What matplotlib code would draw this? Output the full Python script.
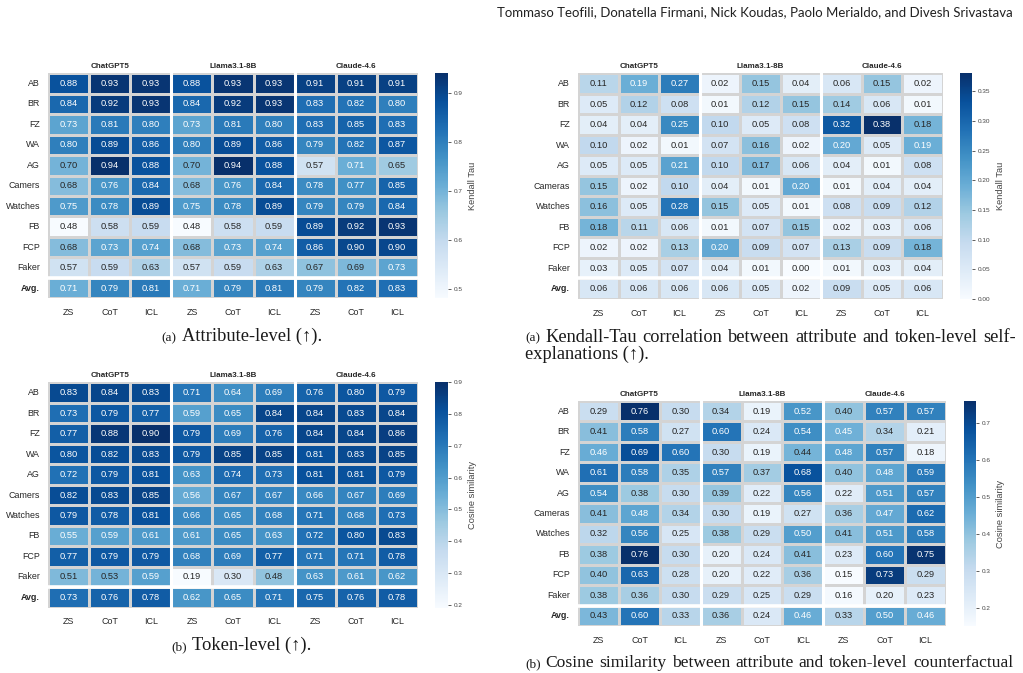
import numpy as np
import matplotlib
matplotlib.use("Agg")
import matplotlib.pyplot as plt
import seaborn as sns

plt.rcParams['font.family'] = ['Liberation Sans', 'DejaVu Sans']

models = ["ChatGPT5", "Llama3.1-8B", "Claude-4.6"]
strategies = ["ZS", "CoT", "ICL"]
rows_left = ["AB", "BR", "FZ", "WA", "AG", "Camers", "Watches", "FB", "FCP", "Faker", "Avg."]
rows_right = ["AB", "BR", "FZ", "WA", "AG", "Cameras", "Watches", "FB", "FCP", "Faker", "Avg."]

attribute_level = [
    [0.88, 0.93, 0.93, 0.88, 0.93, 0.93, 0.91, 0.91, 0.91],
    [0.84, 0.92, 0.93, 0.84, 0.92, 0.93, 0.83, 0.82, 0.80],
    [0.73, 0.81, 0.80, 0.73, 0.81, 0.80, 0.83, 0.85, 0.83],
    [0.80, 0.89, 0.86, 0.80, 0.89, 0.86, 0.79, 0.82, 0.87],
    [0.70, 0.94, 0.88, 0.70, 0.94, 0.88, 0.57, 0.71, 0.65],
    [0.68, 0.76, 0.84, 0.68, 0.76, 0.84, 0.78, 0.77, 0.85],
    [0.75, 0.78, 0.89, 0.75, 0.78, 0.89, 0.79, 0.79, 0.84],
    [0.48, 0.58, 0.59, 0.48, 0.58, 0.59, 0.89, 0.92, 0.93],
    [0.68, 0.73, 0.74, 0.68, 0.73, 0.74, 0.86, 0.90, 0.90],
    [0.57, 0.59, 0.63, 0.57, 0.59, 0.63, 0.67, 0.69, 0.73],
    [0.71, 0.79, 0.81, 0.71, 0.79, 0.81, 0.79, 0.82, 0.83],
]

kendall_attr_token = [
    [0.11, 0.19, 0.27, 0.02, 0.15, 0.04, 0.06, 0.15, 0.02],
    [0.05, 0.12, 0.08, 0.01, 0.12, 0.15, 0.14, 0.06, 0.01],
    [0.04, 0.04, 0.25, 0.10, 0.05, 0.08, 0.32, 0.38, 0.18],
    [0.10, 0.02, 0.01, 0.07, 0.16, 0.02, 0.20, 0.05, 0.19],
    [0.05, 0.05, 0.21, 0.10, 0.17, 0.06, 0.04, 0.01, 0.08],
    [0.15, 0.02, 0.10, 0.04, 0.01, 0.20, 0.01, 0.04, 0.04],
    [0.16, 0.05, 0.28, 0.15, 0.05, 0.01, 0.08, 0.09, 0.12],
    [0.18, 0.11, 0.06, 0.01, 0.07, 0.15, 0.02, 0.03, 0.06],
    [0.02, 0.02, 0.13, 0.20, 0.09, 0.07, 0.13, 0.09, 0.18],
    [0.03, 0.05, 0.07, 0.04, 0.01, 0.00, 0.01, 0.03, 0.04],
    [0.06, 0.06, 0.06, 0.06, 0.05, 0.02, 0.09, 0.05, 0.06],
]

token_level = [
    [0.83, 0.84, 0.83, 0.71, 0.64, 0.69, 0.76, 0.80, 0.79],
    [0.73, 0.79, 0.77, 0.59, 0.65, 0.84, 0.84, 0.83, 0.84],
    [0.77, 0.88, 0.90, 0.79, 0.69, 0.76, 0.84, 0.84, 0.86],
    [0.80, 0.82, 0.83, 0.79, 0.85, 0.85, 0.81, 0.83, 0.85],
    [0.72, 0.79, 0.81, 0.63, 0.74, 0.73, 0.81, 0.81, 0.79],
    [0.82, 0.83, 0.85, 0.56, 0.67, 0.67, 0.66, 0.67, 0.69],
    [0.79, 0.78, 0.81, 0.66, 0.65, 0.68, 0.71, 0.68, 0.73],
    [0.55, 0.59, 0.61, 0.61, 0.65, 0.63, 0.72, 0.80, 0.83],
    [0.77, 0.79, 0.79, 0.68, 0.69, 0.77, 0.71, 0.71, 0.78],
    [0.51, 0.53, 0.59, 0.19, 0.30, 0.48, 0.63, 0.61, 0.62],
    [0.73, 0.76, 0.78, 0.62, 0.65, 0.71, 0.75, 0.76, 0.78],
]

cosine_counterfactual = [
    [0.29, 0.76, 0.30, 0.34, 0.19, 0.52, 0.40, 0.57, 0.57],
    [0.41, 0.58, 0.27, 0.60, 0.24, 0.54, 0.45, 0.34, 0.21],
    [0.46, 0.69, 0.60, 0.30, 0.19, 0.44, 0.48, 0.57, 0.18],
    [0.61, 0.58, 0.35, 0.57, 0.37, 0.68, 0.40, 0.48, 0.59],
    [0.54, 0.38, 0.30, 0.39, 0.22, 0.56, 0.22, 0.51, 0.57],
    [0.41, 0.48, 0.34, 0.30, 0.19, 0.27, 0.36, 0.47, 0.62],
    [0.32, 0.56, 0.25, 0.38, 0.29, 0.50, 0.41, 0.51, 0.58],
    [0.38, 0.76, 0.30, 0.20, 0.24, 0.41, 0.23, 0.60, 0.75],
    [0.40, 0.63, 0.28, 0.20, 0.22, 0.36, 0.15, 0.73, 0.29],
    [0.38, 0.36, 0.30, 0.29, 0.25, 0.29, 0.16, 0.20, 0.23],
    [0.43, 0.60, 0.33, 0.36, 0.24, 0.46, 0.33, 0.50, 0.46],
]

W, H = 1023, 673
fig = plt.figure(figsize=(W / 100, H / 100), dpi=100)


def rect(x0, y0, x1, y1):
    return [x0 / W, 1 - y1 / H, (x1 - x0) / W, (y1 - y0) / H]


TXT = '#262626'


def panel(hm_box, cb_box, data, rows, cbar_label):
    ax = fig.add_axes(rect(*hm_box))
    cax = fig.add_axes(rect(*cb_box))
    arr = np.array(data)
    xlabels = strategies * len(models)
    sns.heatmap(arr, ax=ax, cbar_ax=cax, cmap='Blues', annot=True, fmt='.2f',
                linewidths=1, linecolor='#d4d4d4',
                annot_kws={'fontsize': 6.7},
                xticklabels=xlabels, yticklabels=rows)
    for x in (3, 6):
        ax.axvline(x, color='white', lw=2.2)
    ax.axhline(len(rows) - 1, color='white', lw=2.6)
    ax.tick_params(axis='both', length=0, labelsize=6.4, colors=TXT)
    ax.tick_params(axis='x', pad=7)
    ax.tick_params(axis='y', pad=6)
    plt.setp(ax.get_yticklabels(), rotation=0)
    plt.setp(ax.get_xticklabels(), rotation=0)
    ax.get_yticklabels()[-1].set_fontweight('bold')
    for i, m in enumerate(models):
        ax.text(3 * i + 1.5, -0.32, m, ha='center', va='center',
                fontsize=5.8, fontweight='bold', color=TXT)
    cax.tick_params(labelsize=4.6, length=2.5, width=0.6, colors='#444444', pad=1.5)
    cax.set_ylabel(cbar_label, fontsize=6.7, color='#444444', labelpad=4)
    return ax


panel((48.3, 73.3, 417.7, 298.3), (435, 73.3, 447.7, 298.3),
      attribute_level, rows_left, 'Kendall Tau')
panel((578.3, 73.3, 942.7, 299), (960, 73.3, 972.3, 299),
      kendall_attr_token, rows_right, 'Kendall Tau')
panel((48.3, 382.3, 417.7, 607.7), (435, 382.3, 447.7, 607.7),
      token_level, rows_left, 'Cosine similarity')
panel((578.3, 401, 945.7, 626), (964.3, 401, 976, 626),
      cosine_counterfactual, rows_right, 'Cosine similarity')

serif = ['Liberation Serif', 'DejaVu Serif']
CAP_L = 13.3
TAG = 9.5
CAPCOL = '#1a1a1a'
fig.canvas.draw()
R = fig.canvas.get_renderer()


def width_of(s, size):
    t = fig.text(0, 0, s, fontsize=size, family=serif)
    w = t.get_window_extent(R).width
    t.remove()
    return w


def justified_caption(x0, x1, y, tag, text, size):
    """LaTeX-like justified first caption line between x0 and x1."""
    wt = width_of(tag, TAG)
    fig.text(x0 / W, 1 - y / H, tag, fontsize=TAG, family=serif, va='baseline',
             ha='left', color=CAPCOL)
    words = text.split(' ')
    widths = [width_of(w, size) for w in words]
    start = x0 + wt + 5
    gap = (x1 - start - sum(widths)) / (len(words) - 1)
    x = start
    for w, ww in zip(words, widths):
        fig.text(x / W, 1 - y / H, w, fontsize=size, family=serif, va='baseline',
                 ha='left', color=CAPCOL)
        x += ww + gap


def centered_caption(cx, y, tag, text, size):
    w1 = width_of(tag, TAG)
    w2 = width_of(text, size)
    x0 = cx - (w1 + 5 + w2) / 2
    fig.text(x0 / W, 1 - y / H, tag, fontsize=TAG, family=serif, va='baseline',
             ha='left', color=CAPCOL)
    fig.text((x0 + w1 + 5) / W, 1 - y / H, text, fontsize=size, family=serif,
             va='baseline', ha='left', color=CAPCOL)


centered_caption(242, 341, '(a)', 'Attribute-level (\u2191).', CAP_L)
centered_caption(241, 650, '(b)', 'Token-level (\u2191).', CAP_L)
justified_caption(525, 1016, 341.5, '(a)',
                  'Kendall-Tau correlation between attribute and token-level self-', 13.2)
fig.text(525 / W, 1 - 358.5 / H, 'explanations (\u2191).', fontsize=13.2, family=serif,
         va='baseline', ha='left', color=CAPCOL)
justified_caption(525, 1013, 667, '(b)',
                  'Cosine similarity between attribute and token-level counterfactual', 12.6)

fig.text(1013 / W, 1 - 12 / H,
         'Tommaso Teofili, Donatella Firmani, Nick Koudas, Paolo Merialdo, and Divesh Srivastava',
         fontsize=9.5, family=['Lato', 'DejaVu Sans'], ha='right', va='center', color='#222222')

fig.savefig('out.png', dpi=100)
